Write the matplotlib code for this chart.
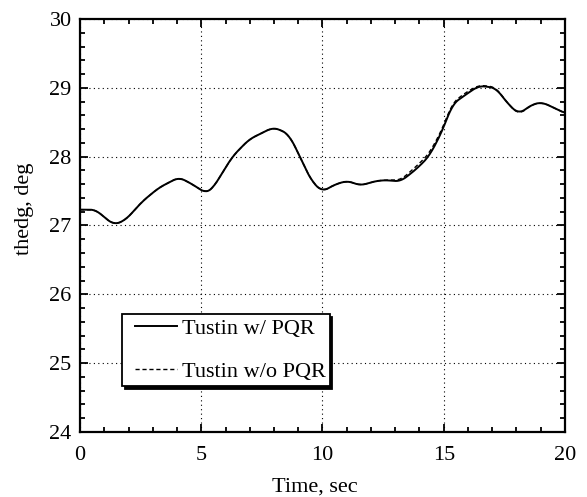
import numpy as np
import matplotlib
matplotlib.use('Agg')
import matplotlib.pyplot as plt
from matplotlib.ticker import MultipleLocator
from matplotlib.legend_handler import HandlerLine2D

plt.rcParams['font.family'] = ['Liberation Serif', 'DejaVu Serif']

# time history
t = [0.0, 0.65, 1.0, 1.4, 1.88, 2.57, 3.26, 4.08, 4.63, 5.18, 5.46, 6.28, 6.97,
     7.93, 8.2, 8.62, 9.03, 9.3, 9.58, 10.0, 10.47, 11.02, 11.57, 12.12, 12.54,
     13.22, 13.84, 14.39, 14.94, 15.35, 15.9, 16.45, 17.14, 17.69, 18.1, 18.65,
     19.06, 19.48, 20.0]
thedg_pqr = [27.23, 27.23, 27.12, 27.01, 27.08, 27.35, 27.55, 27.70, 27.60, 27.47,
             27.53, 28.0, 28.25, 28.42, 28.40, 28.32, 28.03, 27.82, 27.63, 27.49,
             27.59, 27.65, 27.58, 27.64, 27.66, 27.64, 27.81, 28.0, 28.37, 28.76,
             28.9, 29.03, 29.0, 28.75, 28.62, 28.76, 28.79, 28.72, 28.63]
thedg_nopqr = [27.23, 27.23, 27.12, 27.01, 27.08, 27.35, 27.55, 27.70, 27.60, 27.47,
               27.53, 28.0, 28.25, 28.42, 28.40, 28.32, 28.03, 27.82, 27.63, 27.49,
               27.59, 27.65, 27.58, 27.64, 27.66, 27.66, 27.85, 28.04, 28.40, 28.78,
               28.93, 29.04, 29.01, 28.75, 28.61, 28.76, 28.79, 28.72, 28.63]


class IndentedLine(HandlerLine2D):
    # legend line that starts a few pixels inside the handle box
    def create_artists(self, legend, orig_handle, xdescent, ydescent, width,
                       height, fontsize, trans):
        pad = 0.4 * fontsize
        return super().create_artists(legend, orig_handle, xdescent - pad, ydescent,
                                      width - pad, height, fontsize, trans)


fig = plt.figure(figsize=(5.87, 4.97), dpi=100)
ax = fig.add_axes([0.1363, 0.1308, 0.8262, 0.831])

# smooth the read points for drawing
ts = np.linspace(0, 20, 600)
def smooth(x, y):
    yi = np.interp(ts, x, y)
    k = np.ones(15) / 15
    ypad = np.pad(yi, 7, mode='edge')
    return np.convolve(ypad, k, mode='valid')

ax.plot(ts, smooth(t, thedg_pqr), color='k', lw=1.4, label='Tustin w/ PQR')
ax.plot(ts, smooth(t, thedg_nopqr), color='k', lw=1.0, linestyle=(0, (3, 2)),
        label='Tustin w/o PQR')

ax.set_xlim(0, 20)
ax.set_ylim(24, 30)
ax.xaxis.set_major_locator(MultipleLocator(5))
ax.xaxis.set_minor_locator(MultipleLocator(1))
ax.yaxis.set_major_locator(MultipleLocator(1))
ax.yaxis.set_minor_locator(MultipleLocator(0.2))
ax.tick_params(which='both', direction='in', top=True, right=True, width=1.3)
ax.tick_params(which='major', length=6, labelsize=16)
ax.tick_params(which='minor', length=3.5)
ax.tick_params(axis='x', pad=10)
ax.tick_params(axis='y', pad=6)
for s in ax.spines.values():
    s.set_linewidth(1.6)
ax.grid(True, which='major', color='k', linestyle=(0, (1, 3)), linewidth=0.8)

ax.set_xlabel('Time, sec', fontsize=16)
ax.xaxis.set_label_coords(0.485, -0.11)
ax.set_ylabel('thedg, deg', fontsize=16)
ax.yaxis.set_label_coords(-0.095, 0.54)

leg = ax.legend(loc='lower left', bbox_to_anchor=(0.087, 0.112), borderaxespad=0,
                fontsize=16, fancybox=False, framealpha=1, edgecolor='k',
                labelspacing=1.0, handlelength=2.3, handletextpad=0.2,
                borderpad=0.18, shadow={'color': 'k', 'alpha': 1},
                handler_map={matplotlib.lines.Line2D: IndentedLine()})
leg.get_frame().set_linewidth(1.3)

fig.savefig('out.png', dpi=100)
